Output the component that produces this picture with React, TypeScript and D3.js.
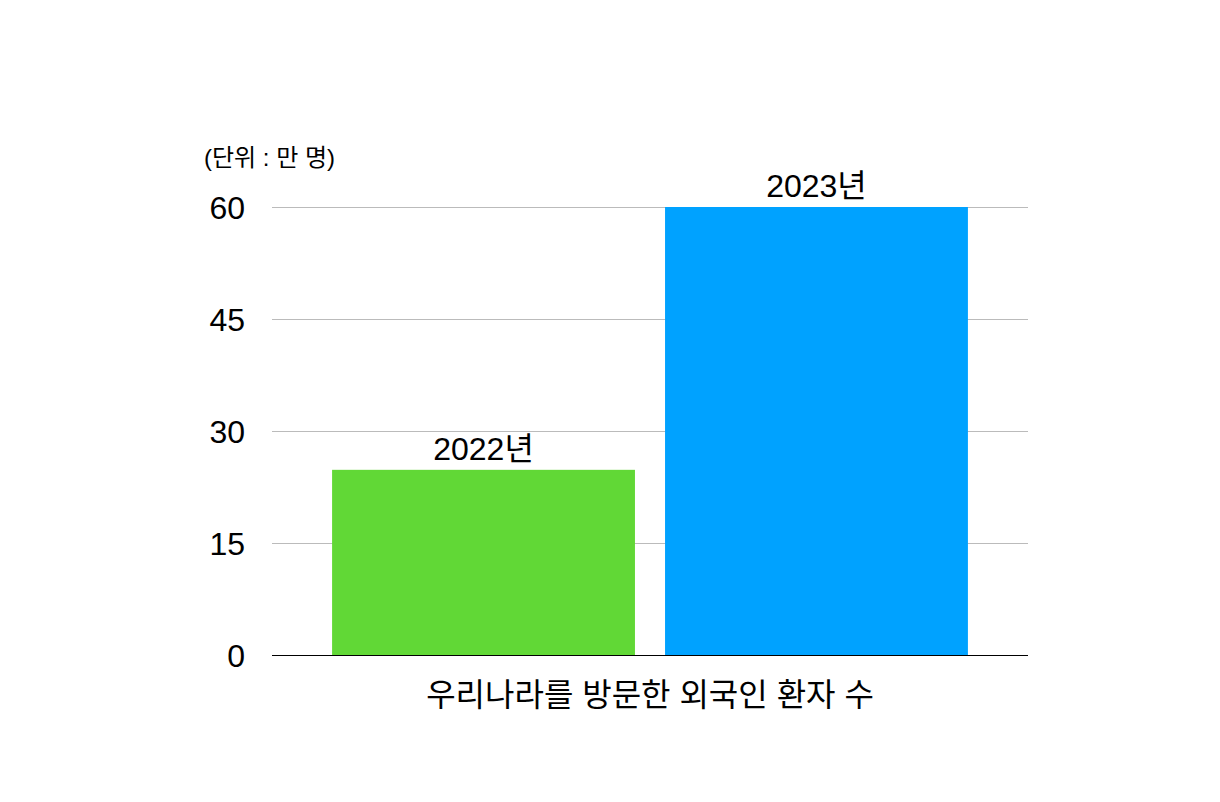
import React from "react";
import * as d3 from "d3";

const categories = ["2022년", "2023년"];
const values = [24.8, 60];
const barColors = ["#61D836", "#00A2FF"];
const yTicks = [0, 15, 30, 45, 60];
const unitLabel = "(단위 : 만 명)";
const axisTitle = "우리나라를 방문한 외국인 환자 수";

const W = 1220;
const H = 802;
const FONT = '"Liberation Sans", "Noto Sans CJK KR", sans-serif';

export default function App() {
  const x0 = 272;
  const x1 = 1028;
  const y = d3.scaleLinear().domain([0, 60]).range([655, 207]);
  const x = d3
    .scaleBand<string>()
    .domain(categories)
    .range([302, 998])
    .paddingInner(30 / 332)
    .paddingOuter(30 / 332);

  return (
    <svg
      width={W}
      height={H}
      style={{ position: "absolute", left: 0, top: 0, background: "#fff" }}
      fontFamily={FONT}
    >
      <rect x={0} y={0} width={W} height={H} fill="#fff" />
      {yTicks.map((t) =>
        t === 0 ? null : (
          <line
            key={t}
            x1={x0}
            x2={x1}
            y1={y(t) + 0.5}
            y2={y(t) + 0.5}
            stroke="#BBBBBB"
            strokeWidth={1}
          />
        )
      )}
      {categories.map((c, i) => (
        <rect
          key={c}
          x={x(c)}
          y={y(values[i])}
          width={x.bandwidth()}
          height={y(0) - y(values[i])}
          fill={barColors[i]}
        />
      ))}
      <line x1={x0} x2={x1} y1={y(0) + 0.5} y2={y(0) + 0.5} stroke="#000" strokeWidth={1} />
      {yTicks.map((t) => (
        <text
          key={t}
          x={245}
          y={y(t) + 11.5}
          textAnchor="end"
          fontSize={32}
          fill="#000"
        >
          {t}
        </text>
      ))}
      {categories.map((c, i) => (
        <text
          key={c}
          x={(x(c) as number) + x.bandwidth() / 2}
          y={y(values[i]) - 10}
          textAnchor="middle"
          fontSize={32}
          fill="#000"
        >
          {c}
        </text>
      ))}
      <text x={204} y={166} fontSize={24} fill="#000">
        {unitLabel}
      </text>
      <text x={650} y={706} textAnchor="middle" fontSize={32} fill="#000">
        {axisTitle}
      </text>
    </svg>
  );
}
